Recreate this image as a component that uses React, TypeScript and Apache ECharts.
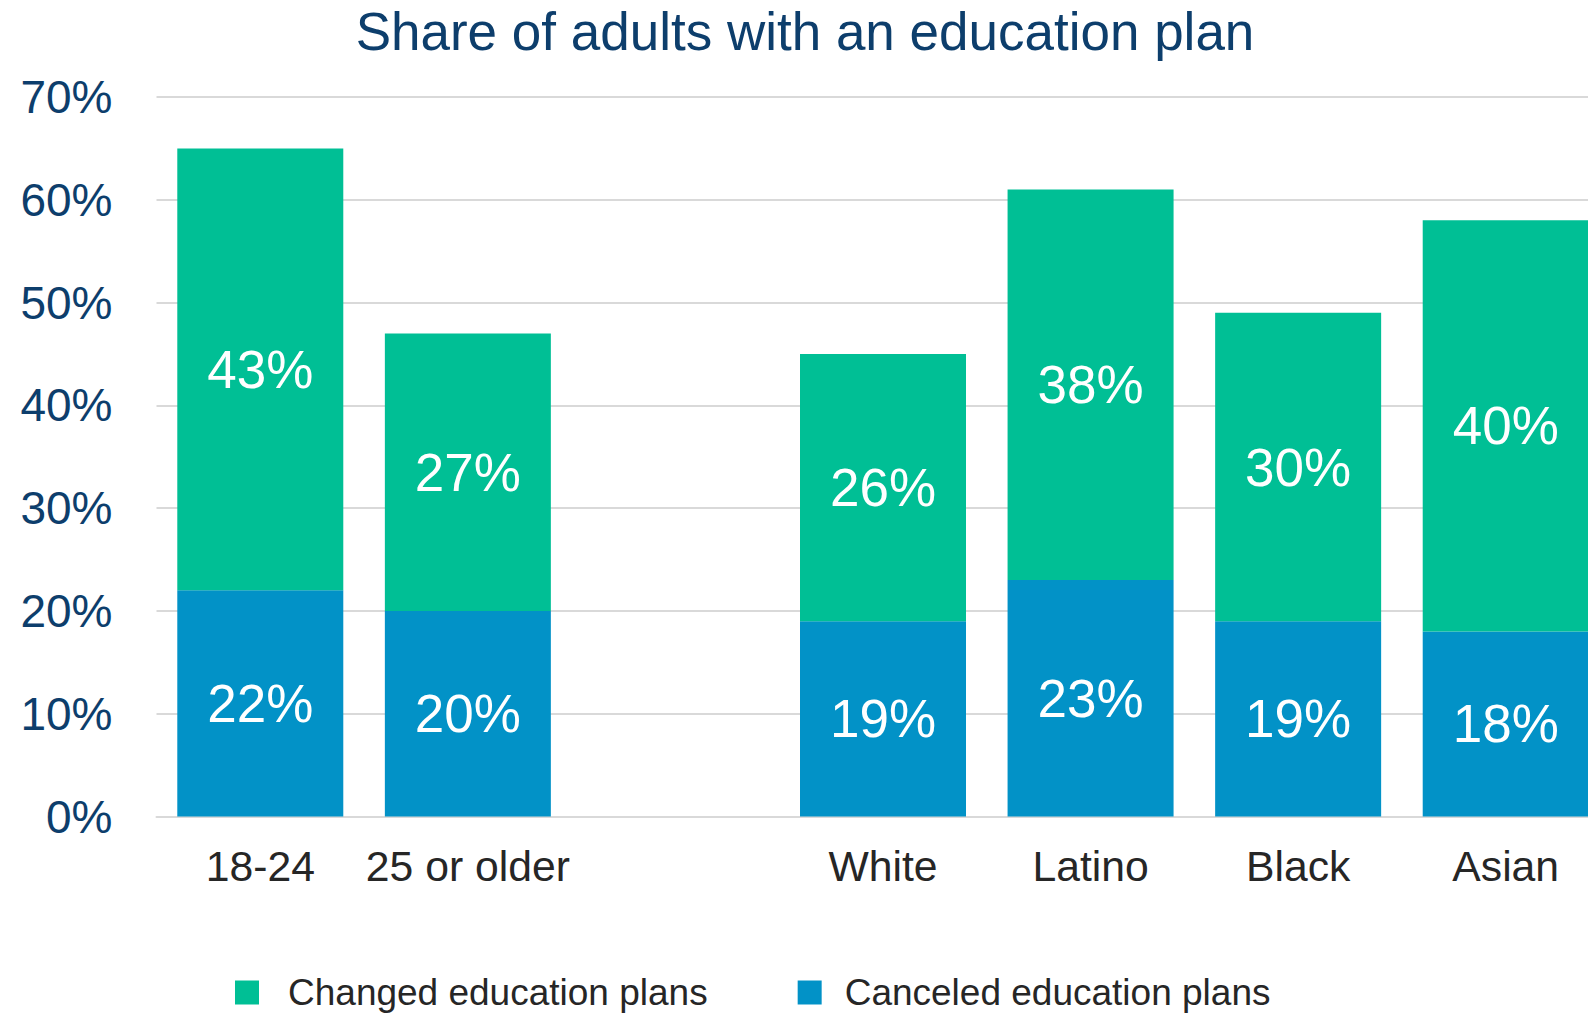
import React, { useEffect, useRef } from "react";
import * as echarts from "echarts";

const categories = ["18-24", "25 or older", "", "White", "Latino", "Black", "Asian"];
const canceled = [22, 20, null, 19, 23, 19, 18];
const changed = [43, 27, null, 26, 38, 30, 40];
const yTicks = { min: 0, max: 70, interval: 10 };
const legendNames = ["Changed education plans", "Canceled education plans"];

const FONT = "'Liberation Sans', Arial, sans-serif";
const GREEN = "#00BF95";
const BLUE = "#0292C7";
const NAVY = "#0D3E6C";

export default function App() {
  const ref = useRef<HTMLDivElement>(null);
  useEffect(() => {
    if (!ref.current) return;
    const chart = echarts.init(ref.current, null, { renderer: "svg" });
    const labelStyle = {
      show: true,
      position: "inside",
      color: "#ffffff",
      fontSize: 53,
      fontFamily: FONT,
      formatter: (p: any) => `${p.value}%`,
    };
    chart.setOption({
      animation: false,
      backgroundColor: "#ffffff",
      title: {
        text: "Share of adults with an education plan",
        left: 805,
        textAlign: "center",
        top: 5,
        padding: 0,
        textStyle: { color: NAVY, fontSize: 53, fontWeight: "normal", fontFamily: FONT },
      },
      legend: {
        left: 235,
        top: 974,
        padding: 0,
        itemWidth: 24,
        itemHeight: 24,
        itemGap: 90,
        icon: "rect",
        data: [
          { name: legendNames[0], textStyle: { padding: [0, 0, 0, 24] } },
          { name: legendNames[1], textStyle: { padding: [0, 0, 0, 18] } },
        ],
        textStyle: { fontSize: 37, color: "#262626", fontFamily: FONT },
      },
      grid: {
        left: 156.5,
        width: 1453,
        top: 97,
        bottom: 196.5,
        containLabel: false,
        outerBoundsMode: "none",
      },
      xAxis: {
        type: "category",
        data: categories,
        axisLine: { show: true, lineStyle: { color: "#d9d9d9", width: 2 } },
        axisTick: { show: false },
        axisLabel: { color: "#262626", fontSize: 42.7, fontFamily: FONT, margin: 28, interval: 0 },
      },
      yAxis: {
        type: "value",
        min: yTicks.min,
        max: yTicks.max,
        interval: yTicks.interval,
        axisLine: { show: false },
        axisTick: { show: false },
        splitLine: { lineStyle: { color: "#d9d9d9", width: 2 } },
        axisLabel: {
          color: NAVY,
          fontSize: 46,
          fontFamily: FONT,
          margin: 44,
          formatter: "{value}%",
        },
      },
      series: [
        {
          name: legendNames[1],
          type: "bar",
          stack: "total",
          data: canceled,
          barWidth: 166,
          itemStyle: { color: BLUE },
          label: labelStyle,
        },
        {
          name: legendNames[0],
          type: "bar",
          stack: "total",
          data: changed,
          barWidth: 166,
          itemStyle: { color: GREEN },
          label: labelStyle,
        },
      ],
    });
    return () => chart.dispose();
  }, []);
  return (
    <div
      ref={ref}
      style={{ position: "fixed", left: 0, top: 0, width: 1588, height: 1013, background: "#fff" }}
    />
  );
}
